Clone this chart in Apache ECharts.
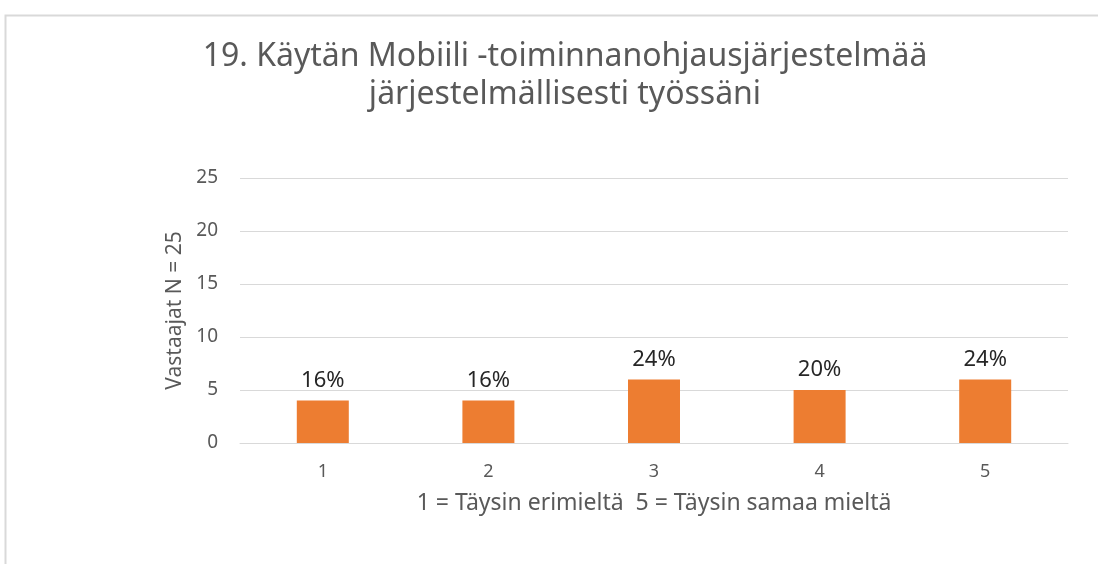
<!DOCTYPE html>
<html><head><meta charset="utf-8">
<script src="https://cdn.jsdelivr.net/npm/echarts@6/dist/echarts.min.js"></script>
<style>html,body{margin:0;padding:0;background:#fff}#c{width:1098px;height:564px}</style>
</head><body><div id="c"></div>
<script>
const categories = ['1','2','3','4','5'];
const counts = [4, 4, 6, 5, 6];
const percentLabels = ['16%','16%','24%','20%','24%'];
const yTicks = [0, 5, 10, 15, 20, 25];
const titleText = '19. Käytän Mobiili -toiminnanohjausjärjestelmää\njärjestelmällisesti työssäni';
const xAxisName = '1 = Täysin erimieltä  5 = Täysin samaa mieltä';
const yAxisName = 'Vastaajat N = 25';

const chart = echarts.init(document.getElementById('c'));
const font = '"Noto Sans", sans-serif';
chart.setOption({
  animation: false,
  graphic: [{
    type: 'rect', shape: {x: 5.5, y: 15.5, width: 1200, height: 700},
    style: {fill: 'none', stroke: '#d9d9d9', lineWidth: 2}, silent: true
  }],
  title: {
    text: titleText, left: 560, textAlign: 'center', top: 33,
    textStyle: {fontFamily: font, fontSize: 32, fontWeight: 'normal', color: '#595959', lineHeight: 38}
  },
  grid: {left: 240, right: 30, top: 178, bottom: 121},
  xAxis: {
    type: 'category', data: categories,
    name: xAxisName, nameLocation: 'middle', nameGap: 49,
    nameTextStyle: {fontFamily: font, fontSize: 23, color: '#595959'},
    axisLine: {lineStyle: {color: '#d9d9d9'}}, axisTick: {show: false},
    axisLabel: {fontFamily: font, fontSize: 18, color: '#595959', margin: 20}
  },
  yAxis: {
    type: 'value', min: yTicks[0], max: yTicks[yTicks.length - 1], interval: 5,
    name: yAxisName, nameLocation: 'middle', nameGap: 52, nameRotate: 90,
    nameTextStyle: {fontFamily: font, fontSize: 21, color: '#595959'},
    axisLine: {show: false}, axisTick: {show: false},
    axisLabel: {fontFamily: font, fontSize: 19, color: '#595959', margin: 22},
    splitLine: {lineStyle: {color: '#d9d9d9', width: 1}}
  },
  series: [{
    type: 'bar', data: counts, barWidth: 52,
    itemStyle: {color: '#ed7d31'},
    label: {
      show: true, position: 'top', distance: 9,
      formatter: p => percentLabels[p.dataIndex],
      fontFamily: font, fontSize: 22, color: '#262626'
    }
  }]
});
</script></body></html>
